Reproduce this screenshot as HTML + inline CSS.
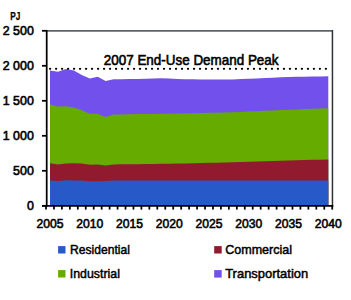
<!DOCTYPE html>
<html><head><meta charset="utf-8"><style>
html,body{margin:0;padding:0;background:#fff;}
body{width:351px;height:300px;overflow:hidden;}
svg{display:block;}
text{font-family:"Liberation Sans",sans-serif;}
</style></head><body>
<svg width="351" height="300" viewBox="0 0 351 300">
<rect width="351" height="300" fill="#fff"/>
<path d="M50.00,70.40 57.95,71.70 65.90,69.10 73.85,70.60 81.80,75.00 89.75,78.60 97.71,76.70 105.66,81.10 113.61,79.20 121.56,79.30 129.51,79.10 137.46,78.90 145.41,78.70 153.36,78.50 161.31,78.30 169.26,78.60 177.22,78.90 185.17,79.20 193.12,79.33 201.07,79.47 209.02,79.60 216.97,79.53 224.92,79.47 232.87,79.40 240.82,79.10 248.77,78.80 256.73,78.50 264.68,78.07 272.63,77.63 280.58,77.20 288.53,77.03 296.48,76.87 304.43,76.70 312.38,76.57 320.33,76.43 328.28,76.30 L328.28,205.8 L50.00,205.8 Z" fill="#7250EC"/>
<path d="M50.00,104.40 57.95,106.60 65.90,106.30 73.85,107.50 81.80,110.30 89.75,113.80 97.71,113.80 105.66,116.90 113.61,114.60 121.56,114.40 129.51,114.20 137.46,114.10 145.41,114.00 153.36,113.90 161.31,113.80 169.26,113.67 177.22,113.53 185.17,113.40 193.12,113.22 201.07,113.03 209.02,112.85 216.97,112.67 224.92,112.48 232.87,112.30 240.82,111.92 248.77,111.53 256.73,111.15 264.68,110.77 272.63,110.38 280.58,110.00 288.53,109.70 296.48,109.40 304.43,109.10 312.38,108.80 320.33,108.50 328.28,108.20 L328.28,205.8 L50.00,205.8 Z" fill="#66AC00"/>
<path d="M50.00,163.30 57.95,164.40 65.90,163.60 73.85,163.30 81.80,163.50 89.75,164.70 97.71,164.40 105.66,165.60 113.61,164.40 121.56,164.20 129.51,164.20 137.46,164.20 145.41,164.07 153.36,163.93 161.31,163.80 169.26,163.67 177.22,163.53 185.17,163.40 193.12,163.22 201.07,163.03 209.02,162.85 216.97,162.67 224.92,162.48 232.87,162.30 240.82,162.05 248.77,161.80 256.73,161.55 264.68,161.30 272.63,161.05 280.58,160.80 288.53,160.57 296.48,160.33 304.43,160.10 312.38,159.87 320.33,159.63 328.28,159.40 L328.28,205.8 L50.00,205.8 Z" fill="#921A2E"/>
<path d="M50.00,180.40 57.95,180.90 65.90,180.20 73.85,180.40 81.80,180.40 89.75,181.20 97.71,181.20 105.66,181.00 113.61,180.60 121.56,180.50 129.51,180.50 137.46,180.50 145.41,180.50 153.36,180.50 161.31,180.50 169.26,180.50 177.22,180.50 185.17,180.50 193.12,180.50 201.07,180.50 209.02,180.50 216.97,180.50 224.92,180.50 232.87,180.50 240.82,180.50 248.77,180.50 256.73,180.50 264.68,180.50 272.63,180.50 280.58,180.50 288.53,180.50 296.48,180.50 304.43,180.50 312.38,180.50 320.33,180.50 328.28,180.50 L328.28,205.8 L50.00,205.8 Z" fill="#2759C8"/>
<line x1="47" y1="30.95" x2="332.5" y2="30.95" stroke="#5f6366" stroke-width="1.7"/>
<line x1="332.45" y1="30.1" x2="332.45" y2="206.7" stroke="#2e3236" stroke-width="1.5"/>
<g stroke="#000" stroke-width="1.75">
<line x1="46.7" y1="30.1" x2="46.7" y2="206.7"/>
<line x1="42" y1="205.9" x2="333.2" y2="205.9"/>
<line x1="46.00" y1="205" x2="46.00" y2="209.6"/><line x1="53.95" y1="205" x2="53.95" y2="209.6"/><line x1="61.90" y1="205" x2="61.90" y2="209.6"/><line x1="69.85" y1="205" x2="69.85" y2="209.6"/><line x1="77.80" y1="205" x2="77.80" y2="209.6"/><line x1="85.75" y1="205" x2="85.75" y2="209.6"/><line x1="93.71" y1="205" x2="93.71" y2="209.6"/><line x1="101.66" y1="205" x2="101.66" y2="209.6"/><line x1="109.61" y1="205" x2="109.61" y2="209.6"/><line x1="117.56" y1="205" x2="117.56" y2="209.6"/><line x1="125.51" y1="205" x2="125.51" y2="209.6"/><line x1="133.46" y1="205" x2="133.46" y2="209.6"/><line x1="141.41" y1="205" x2="141.41" y2="209.6"/><line x1="149.36" y1="205" x2="149.36" y2="209.6"/><line x1="157.31" y1="205" x2="157.31" y2="209.6"/><line x1="165.26" y1="205" x2="165.26" y2="209.6"/><line x1="173.22" y1="205" x2="173.22" y2="209.6"/><line x1="181.17" y1="205" x2="181.17" y2="209.6"/><line x1="189.12" y1="205" x2="189.12" y2="209.6"/><line x1="197.07" y1="205" x2="197.07" y2="209.6"/><line x1="205.02" y1="205" x2="205.02" y2="209.6"/><line x1="212.97" y1="205" x2="212.97" y2="209.6"/><line x1="220.92" y1="205" x2="220.92" y2="209.6"/><line x1="228.87" y1="205" x2="228.87" y2="209.6"/><line x1="236.82" y1="205" x2="236.82" y2="209.6"/><line x1="244.77" y1="205" x2="244.77" y2="209.6"/><line x1="252.73" y1="205" x2="252.73" y2="209.6"/><line x1="260.68" y1="205" x2="260.68" y2="209.6"/><line x1="268.63" y1="205" x2="268.63" y2="209.6"/><line x1="276.58" y1="205" x2="276.58" y2="209.6"/><line x1="284.53" y1="205" x2="284.53" y2="209.6"/><line x1="292.48" y1="205" x2="292.48" y2="209.6"/><line x1="300.43" y1="205" x2="300.43" y2="209.6"/><line x1="308.38" y1="205" x2="308.38" y2="209.6"/><line x1="316.33" y1="205" x2="316.33" y2="209.6"/><line x1="324.28" y1="205" x2="324.28" y2="209.6"/><line x1="332.24" y1="205" x2="332.24" y2="209.6"/>
<line x1="42" y1="30.80" x2="47" y2="30.80"/><line x1="42" y1="65.80" x2="47" y2="65.80"/><line x1="42" y1="100.80" x2="47" y2="100.80"/><line x1="42" y1="135.80" x2="47" y2="135.80"/><line x1="42" y1="170.80" x2="47" y2="170.80"/><line x1="42" y1="205.80" x2="47" y2="205.80"/>
</g>
<g fill="#000"><circle cx="50.10" cy="68.8" r="1.15"/><circle cx="56.10" cy="68.8" r="1.15"/><circle cx="62.09" cy="68.8" r="1.15"/><circle cx="68.09" cy="68.8" r="1.15"/><circle cx="74.08" cy="68.8" r="1.15"/><circle cx="80.08" cy="68.8" r="1.15"/><circle cx="86.08" cy="68.8" r="1.15"/><circle cx="92.07" cy="68.8" r="1.15"/><circle cx="98.07" cy="68.8" r="1.15"/><circle cx="104.06" cy="68.8" r="1.15"/><circle cx="110.06" cy="68.8" r="1.15"/><circle cx="116.06" cy="68.8" r="1.15"/><circle cx="122.05" cy="68.8" r="1.15"/><circle cx="128.05" cy="68.8" r="1.15"/><circle cx="134.04" cy="68.8" r="1.15"/><circle cx="140.04" cy="68.8" r="1.15"/><circle cx="146.04" cy="68.8" r="1.15"/><circle cx="152.03" cy="68.8" r="1.15"/><circle cx="158.03" cy="68.8" r="1.15"/><circle cx="164.02" cy="68.8" r="1.15"/><circle cx="170.02" cy="68.8" r="1.15"/><circle cx="176.02" cy="68.8" r="1.15"/><circle cx="182.01" cy="68.8" r="1.15"/><circle cx="188.01" cy="68.8" r="1.15"/><circle cx="194.00" cy="68.8" r="1.15"/><circle cx="200.00" cy="68.8" r="1.15"/><circle cx="206.00" cy="68.8" r="1.15"/><circle cx="211.99" cy="68.8" r="1.15"/><circle cx="217.99" cy="68.8" r="1.15"/><circle cx="223.98" cy="68.8" r="1.15"/><circle cx="229.98" cy="68.8" r="1.15"/><circle cx="235.98" cy="68.8" r="1.15"/><circle cx="241.97" cy="68.8" r="1.15"/><circle cx="247.97" cy="68.8" r="1.15"/><circle cx="253.96" cy="68.8" r="1.15"/><circle cx="259.96" cy="68.8" r="1.15"/><circle cx="265.96" cy="68.8" r="1.15"/><circle cx="271.95" cy="68.8" r="1.15"/><circle cx="277.95" cy="68.8" r="1.15"/><circle cx="283.94" cy="68.8" r="1.15"/><circle cx="289.94" cy="68.8" r="1.15"/><circle cx="295.94" cy="68.8" r="1.15"/><circle cx="301.93" cy="68.8" r="1.15"/><circle cx="307.93" cy="68.8" r="1.15"/><circle cx="313.92" cy="68.8" r="1.15"/><circle cx="319.92" cy="68.8" r="1.15"/><circle cx="325.92" cy="68.8" r="1.15"/></g>
<text x="10.3" y="19.5" font-weight="bold" font-size="10.3" textLength="10" lengthAdjust="spacingAndGlyphs" stroke="#000" stroke-width="0.25">PJ</text>
<g font-size="12.4" fill="#000" stroke="#000" stroke-width="0.6">
<text x="33.8" y="35.10" text-anchor="end">2 500</text><text x="33.8" y="70.10" text-anchor="end">2 000</text><text x="33.8" y="105.10" text-anchor="end">1 500</text><text x="33.8" y="140.10" text-anchor="end">1 000</text><text x="33.8" y="175.10" text-anchor="end">500</text><text x="33.8" y="210.10" text-anchor="end">0</text>
</g>
<g font-size="13" fill="#000" stroke="#000" stroke-width="0.6">
<text x="50.00" y="228" text-anchor="middle" textLength="27" lengthAdjust="spacingAndGlyphs">2005</text><text x="89.75" y="228" text-anchor="middle" textLength="27" lengthAdjust="spacingAndGlyphs">2010</text><text x="129.51" y="228" text-anchor="middle" textLength="27" lengthAdjust="spacingAndGlyphs">2015</text><text x="169.26" y="228" text-anchor="middle" textLength="27" lengthAdjust="spacingAndGlyphs">2020</text><text x="209.02" y="228" text-anchor="middle" textLength="27" lengthAdjust="spacingAndGlyphs">2025</text><text x="248.77" y="228" text-anchor="middle" textLength="27" lengthAdjust="spacingAndGlyphs">2030</text><text x="288.53" y="228" text-anchor="middle" textLength="27" lengthAdjust="spacingAndGlyphs">2035</text><text x="328.28" y="228" text-anchor="middle" textLength="27" lengthAdjust="spacingAndGlyphs">2040</text>
</g>
<text x="103.8" y="65" font-size="14.6" textLength="174.7" lengthAdjust="spacingAndGlyphs" fill="#000" stroke="#000" stroke-width="0.6">2007 End-Use Demand Peak</text>
<rect x="58.1" y="246.1" width="7.4" height="7.4" fill="#2759C8"/>
<rect x="58.1" y="270.1" width="7.4" height="7.4" fill="#66AC00"/>
<rect x="214.2" y="246.1" width="7.5" height="7.4" fill="#921A2E"/>
<rect x="214.2" y="270.1" width="7.5" height="7.5" fill="#7250EC"/>
<g font-size="13.6" fill="#000" stroke="#000" stroke-width="0.5">
<text x="70.1" y="254.3" textLength="59.8" lengthAdjust="spacingAndGlyphs">Residential</text>
<text x="69.8" y="278.2" textLength="50.1" lengthAdjust="spacingAndGlyphs">Industrial</text>
<text x="225.2" y="254.3" textLength="66.9" lengthAdjust="spacingAndGlyphs">Commercial</text>
<text x="225.2" y="278.2" textLength="83" lengthAdjust="spacingAndGlyphs">Transportation</text>
</g>
</svg>
</body></html>
